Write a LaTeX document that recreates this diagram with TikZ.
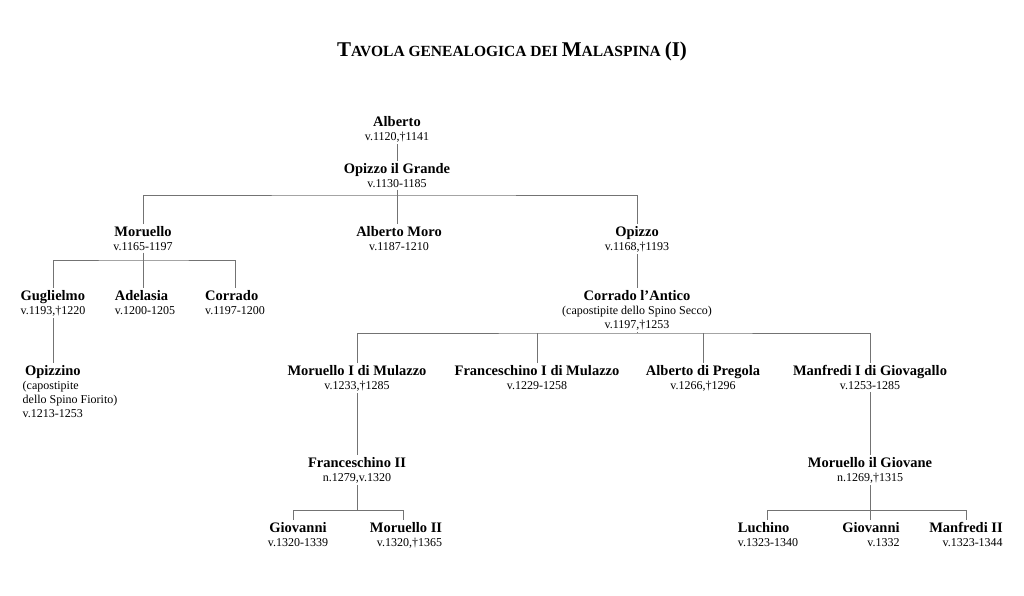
\documentclass[tikz,border=0pt]{standalone}
\usepackage{fontspec}
\setmainfont{Liberation Serif}
\usetikzlibrary{positioning}
\newcommand\pname[1]{{\fontsize{14.5}{14}\selectfont\bfseries #1}}
\newcommand\smc[1]{{\fontsize{15.5}{18}\selectfont #1}}

\begin{document}
\begin{tikzpicture}[x=1pt, y=-1pt, every node/.style={font=\fontsize{12}{14}\selectfont, inner xsep=0.5pt, inner ysep=2pt},
  pers/.style={anchor=north, align=center},
  persl/.style={anchor=north, align=left},
  persr/.style={anchor=north, align=right},
  link/.style={draw=black!55, line width=0.8pt}]
\useasboundingbox (0,0) rectangle (1024,595);
\node (title) at (512,51) {\fontsize{21}{24}\selectfont\bfseries T\smc{AVOLA GENEALOGICA DEI }M\smc{ALASPINA }(I)};
% first generations
\node[pers] (alb) at (397,114) {\pname{Alberto}\\v.1120,†1141};
\node[pers] (opg) at (397,161) {\pname{Opizzo il Grande}\\v.1130-1185};
\node[pers] (mor) at (143,224) {\pname{Moruello}\\v.1165-1197};
\node[pers] (amo) at (399,224) {\pname{Alberto Moro}\\v.1187-1210};
\node[pers] (opz) at (637,224) {\pname{Opizzo}\\v.1168,†1193};
% Moruello's branch
\node[persl] (gug) at (53,288) {\pname{Guglielmo}\\v.1193,†1220};
\node[persl] (ade) at (145,288) {\pname{Adelasia}\\v.1200-1205};
\node[persl] (cor) at (235,288) {\pname{Corrado}\\v.1197-1200};
\node[persl, anchor=north west] (opn) at (22,363) {\pname{\,Opizzino}\\(capostipite\\dello Spino Fiorito)\\v.1213-1253};
% Opizzo's branch
\node[pers] (cant) at (637,288) {\pname{Corrado l’Antico}\\(capostipite dello Spino Secco)\\v.1197,†1253};
\node[pers] (mm) at (357,363) {\pname{Moruello I di Mulazzo}\\v.1233,†1285};
\node[pers] (fm) at (537,363) {\pname{Franceschino I di Mulazzo}\\v.1229-1258};
\node[pers] (ap) at (703,363) {\pname{Alberto di Pregola}\\v.1266,†1296};
\node[pers] (mg) at (870,363) {\pname{Manfredi I di Giovagallo}\\v.1253-1285};
\node[pers] (f2) at (357,455) {\pname{Franceschino II}\\n.1279,v.1320};
\node[pers] (mg2) at (870,455) {\pname{Moruello il Giovane}\\n.1269,†1315};
\node[pers] (gio1) at (298,520) {\pname{Giovanni}\\v.1320-1339};
\node[persr] (m2) at (406,520) {\pname{Moruello II}\\v.1320,†1365};
\node[persl] (luc) at (768,520) {\pname{Luchino}\\v.1323-1340};
\node[persr] (gio2) at (871,520) {\pname{Giovanni}\\v.1332};
\node[persr] (man2) at (966,520) {\pname{Manfredi II}\\v.1323-1344};
% bars
\coordinate (b1) at (397,195);
\coordinate (b2) at (143,260);
\coordinate (b3) at (637,333);
\coordinate (b4) at (357,510);
\coordinate (b5) at (870,510);
% connectors
\draw[link] (alb.south) -- (opg.north);
\draw[link] (opg.south) -- (amo.north -| opg.south);
\draw[link] (mor.north) |- (b1) -| (opz.north);
\draw[link] (mor.south) -- (mor.south |- ade.north);
\draw[link] (gug.north) |- (b2) -| (cor.north);
\draw[link] (gug.south) -- (gug.south |- opn.north);
\draw[link] (opz.south) -- (cant.north);
\draw[link] (cant.south) -- (b3);
\draw[link] (mm.north) |- (b3) -| (mg.north);
\draw[link] (fm.north) -- (fm.north |- b3);
\draw[link] (ap.north) -- (ap.north |- b3);
\draw[link] (mm.south) -- (f2.north);
\draw[link] (mg.south) -- (mg2.north);
\draw[link] (f2.south) -- (b4);
\draw[link] (gio1.north -| 293,0) |- (b4) -| (m2.north -| 403,0);
\draw[link] (mg2.south) -- (mg2.south |- gio2.north);
\draw[link] (luc.north -| 767,0) |- (b5) -| (man2.north);
\end{tikzpicture}
\end{document}
